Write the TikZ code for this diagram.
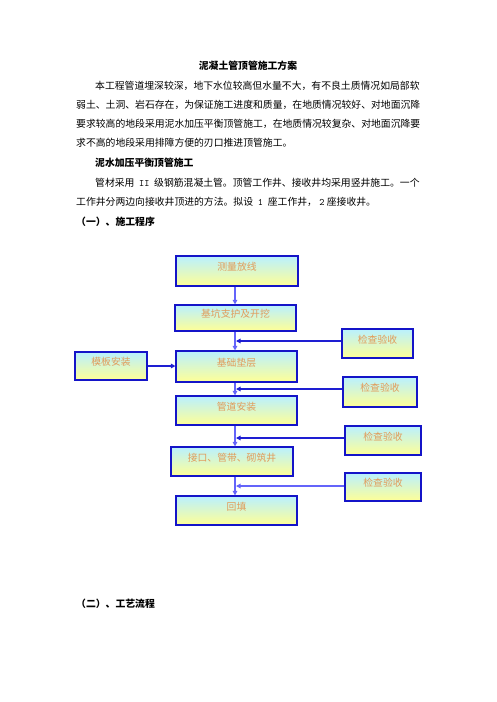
\documentclass[tikz,border=0pt]{standalone}
\usepackage{fontspec}
\setmainfont{Noto Sans CJK SC}
\usetikzlibrary{arrows.meta}
\definecolor{boxline}{RGB}{20,20,200}
\definecolor{boxtop}{RGB}{185,240,255}
\definecolor{boxbot}{RGB}{255,255,150}
\definecolor{boxtext}{RGB}{225,155,90}
\definecolor{lightarr}{RGB}{100,100,250}
\definecolor{darkarr}{RGB}{30,30,210}
\newcommand{\bodyfs}{\fontsize{9.83pt}{12pt}\selectfont}
\begin{document}
\begin{tikzpicture}[x=1pt,y=-1pt,
  line/.style={inner sep=0pt, anchor=west, font=\bodyfs},
  head/.style={inner sep=0pt, anchor=west, font=\bodyfs\bfseries},
  box/.style={draw=boxline, line width=1.1pt, top color=boxtop, bottom color=boxbot,
    inner sep=0pt, text=boxtext, font=\bodyfs},
  lbl/.style={inner sep=0pt, text=boxtext, font=\bodyfs, yshift=4pt},
  varr/.style={draw=lightarr, line width=1.6pt, -{Triangle[length=4.5pt,width=4.5pt]}},
  harr/.style={draw=darkarr, line width=1.1pt, -{Triangle[length=4.5pt,width=4.5pt]}},
  harrl/.style={draw=lightarr, line width=1.6pt, -{Triangle[length=4.5pt,width=4.5pt]}}
]
\useasboundingbox (0,0) rectangle (496,702);
\fill[white] (0,0) rectangle (496,702);

% text
\node[inner sep=0pt, font=\bodyfs\bfseries] (title) at (248,66) {泥凝土管顶管施工方案};
\node[line] (p1) at (95,86) {本工程管道埋深较深，地下水位较高但水量不大，有不良土质情况如局部软};
\node[line] (p2) at (76,105) {弱土、土洞、岩石存在，为保证施工进度和质量，在地质情况较好、对地面沉降};
\node[line] (p3) at (76,124) {要求较高的地段采用泥水加压平衡顶管施工，在地质情况较复杂、对地面沉降要};
\node[line] (p4) at (76,143) {求不高的地段采用排障方便的刃口推进顶管施工。};
\node[head] (h1) at (95,163) {泥水加压平衡顶管施工};
\node[line] (p5) at (95,183) {管材采用\makebox[2em]{\texttt{II}}级钢筋混凝土管。顶管工作井、接收井均采用竖井施工。一个};
\node[line] (p6) at (76,202) {工作井分两边向接收井顶进的方法。拟设\makebox[1.5em]{\texttt{1}}座工作井，\makebox[1em]{\texttt{2}}座接收井。};
\node[head] (h2) at (76,222) {（一）、施工程序};
\node[head] (h3) at (76,604) {（二）、工艺流程};

% boxes
\node[box, minimum width=122pt, minimum height=30pt, label={[lbl]center:测量放线}] (a) at (237,271) {};
\node[box, minimum width=121pt, minimum height=26pt, label={[lbl]center:基坑支护及开挖}] (b) at (235.5,318) {};
\node[box, minimum width=121pt, minimum height=31pt, label={[lbl]center:基础垫层}] (c) at (236.5,366.5) {};
\node[box, minimum width=121pt, minimum height=29pt, label={[lbl]center:管道安装}] (d) at (236.5,410.5) {};
\node[box, minimum width=122pt, minimum height=29pt, label={[lbl]center:接口、管带、砌筑井}] (e) at (232,461.5) {};
\node[box, minimum width=121pt, minimum height=29pt, label={[lbl]center:回填}] (f) at (236.5,510.5) {};
\node[box, minimum width=72pt, minimum height=28pt, label={[lbl]center:模板安装}] (m) at (111,366) {};
\node[box, minimum width=71pt, minimum height=29pt, label={[lbl]center:检查验收}] (k1) at (377.5,343.5) {};
\node[box, minimum width=74pt, minimum height=30pt, label={[lbl]center:检查验收}] (k2) at (380,392) {};
\node[box, minimum width=76pt, minimum height=29pt, label={[lbl]center:检查验收}] (k3) at (383,440.5) {};
\node[box, minimum width=76pt, minimum height=28pt, label={[lbl]center:检查验收}] (k4) at (383,487) {};

% spine
\coordinate (sp) at (235,0);
\coordinate (j1) at (236,341);
\coordinate (j2) at (236,389);
\coordinate (j3) at (236,438);
\coordinate (j4) at (236,486);

\draw[varr] (a.south -| sp) -- (b.north -| sp);
\draw[varr] (b.south -| sp) -- (c.north -| sp);
\draw[varr] (c.south -| sp) -- (d.north -| sp);
\draw[varr] (d.south -| sp) -- (e.north -| sp);
\draw[varr] (e.south -| sp) -- (f.north -| sp);

\draw[harr] (k1.west |- j1) -- (j1);
\draw[harr] (k2.west |- j2) -- (j2);
\draw[harr] (k3.west |- j3) -- (j3);
\draw[harrl] (k4.west |- j4) -- (j4);
\draw[harr, line width=1.5pt] (m.east) -- (m.east -| c.west);
\end{tikzpicture}
\end{document}
